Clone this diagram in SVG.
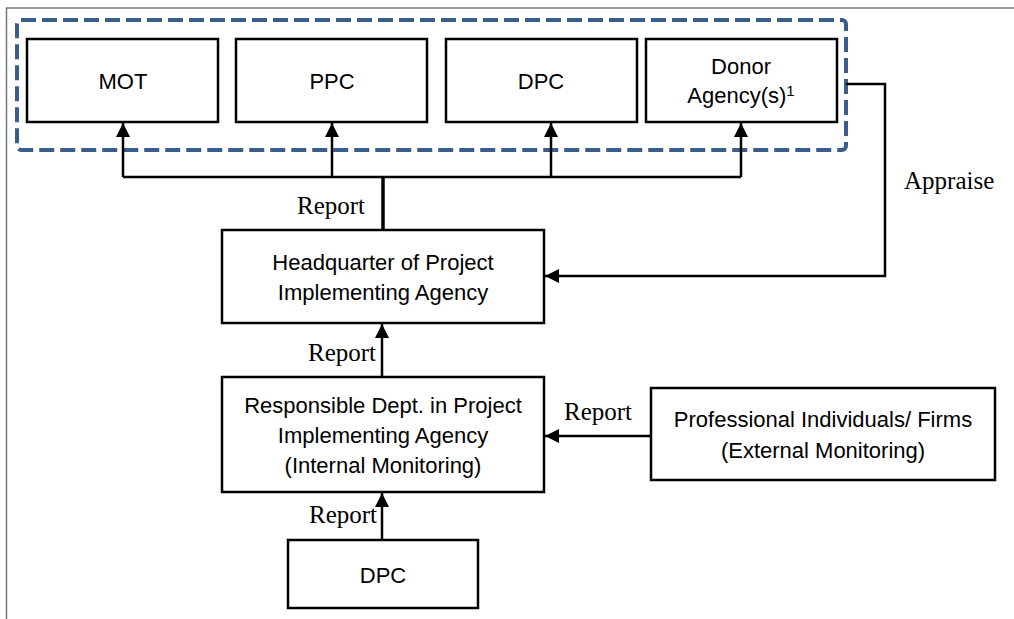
<svg xmlns="http://www.w3.org/2000/svg" width="1014" height="619" viewBox="0 0 1014 619">
<style>
.box{fill:#fff;stroke:#000;stroke-width:2.5}
.t{font-family:"Liberation Sans",Arial,sans-serif;font-size:22px;fill:#000;text-anchor:middle}
.lbl{font-family:"Liberation Serif","Times New Roman",serif;font-size:25px;fill:#000}
.ln{fill:none;stroke:#000;stroke-width:2.5}
</style>
<defs>
<marker id="ah2" viewBox="0 0 14 14" refX="14" refY="7" markerWidth="14" markerHeight="14" orient="auto" markerUnits="userSpaceOnUse">
<path d="M0,0 L14,7 L0,14 z" fill="#000"/>
</marker>
</defs>
<rect width="1014" height="619" fill="#fff"/>
<path d="M6.5,619 V8 H1014" fill="none" stroke="#777" stroke-width="1.5"/>
<rect id="group-dashed" x="17" y="20" width="829" height="130" rx="4" fill="none" stroke="#3a5e8c" stroke-width="4" stroke-dasharray="15 6"/>
<g id="mot"><rect class="box" x="27" y="39" width="191" height="83"/><text class="t" x="123" y="89">MOT</text></g>
<g id="ppc"><rect class="box" x="236" y="39" width="191" height="83"/><text class="t" x="332" y="89">PPC</text></g>
<g id="dpc-top"><rect class="box" x="446" y="39" width="191" height="83"/><text class="t" x="541" y="89">DPC</text></g>
<g id="donor"><rect class="box" x="646" y="39" width="191" height="83"/><text class="t" x="741" y="74">Donor</text><text class="t" x="741" y="103">Agency(s)<tspan font-size="15" dy="-7">1</tspan></text></g>
<g id="hq"><rect class="box" x="222" y="230" width="322" height="93"/><text class="t" x="383" y="270">Headquarter of Project</text><text class="t" x="383" y="300">Implementing Agency</text></g>
<g id="resp"><rect class="box" x="222" y="377" width="322" height="115"/><text class="t" x="383" y="413">Responsible Dept. in Project</text><text class="t" x="383" y="443">Implementing Agency</text><text class="t" x="383" y="473">(Internal Monitoring)</text></g>
<g id="prof"><rect class="box" x="651" y="388" width="344" height="92"/><text class="t" x="823" y="427">Professional Individuals/ Firms</text><text class="t" x="823" y="458">(External Monitoring)</text></g>
<g id="dpc-bottom"><rect class="box" x="288" y="540" width="190" height="68"/><text class="t" x="383" y="583">DPC</text></g>
<g id="connectors">
<path class="ln" d="M123,177 H741"/>
<path class="ln" d="M123,177 V123" marker-end="url(#ah2)"/>
<path class="ln" d="M332,177 V123" marker-end="url(#ah2)"/>
<path class="ln" d="M551,177 V123" marker-end="url(#ah2)"/>
<path class="ln" d="M741,177 V123" marker-end="url(#ah2)"/>
<path fill="none" stroke="#000" stroke-width="3.5" d="M383,176 V230"/>
<path class="ln" d="M846,84 H885 V276 H545" marker-end="url(#ah2)"/>
<path class="ln" d="M382,377 V324" marker-end="url(#ah2)"/>
<path class="ln" d="M382,540 V493" marker-end="url(#ah2)"/>
<path class="ln" d="M651,436 H545" marker-end="url(#ah2)"/>
</g>
<g id="labels">
<text class="lbl" x="365" y="214" text-anchor="end">Report</text>
<text class="lbl" x="376" y="361" text-anchor="end">Report</text>
<text class="lbl" x="564" y="420">Report</text>
<text class="lbl" x="377" y="523" text-anchor="end">Report</text>
<text class="lbl" x="904" y="189">Appraise</text>
</g>
</svg>
